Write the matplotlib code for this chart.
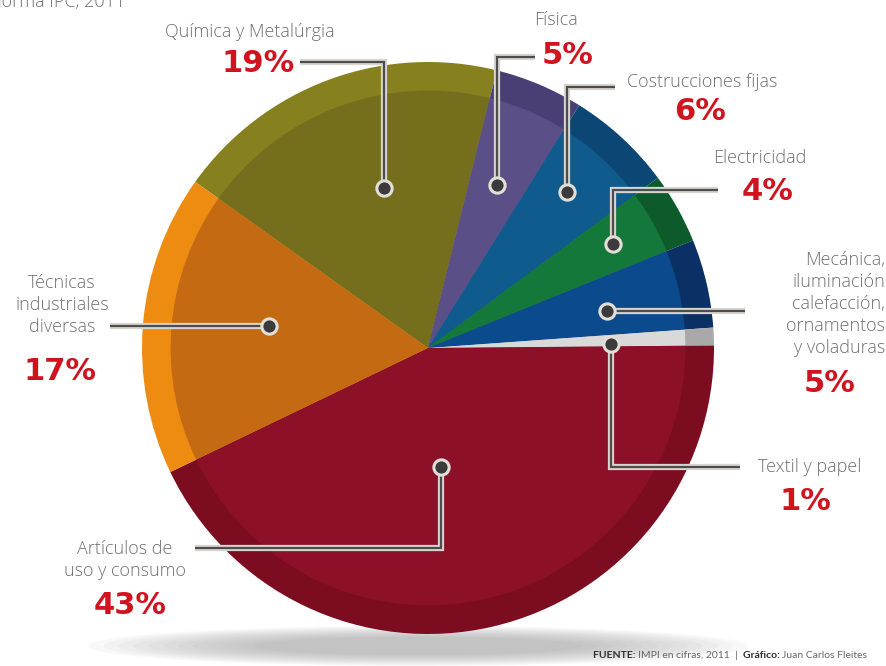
import numpy as np
import matplotlib.pyplot as plt
import matplotlib.patheffects as pe
from matplotlib.patches import Ellipse

# Datos del gráfico (porcentaje de solicitudes por sección)
categorias = ["Química y Metalúrgia", "Física", "Costrucciones fijas", "Electricidad",
              "Mecánica,\niluminación\ncalefacción,\nornamentos\ny voladuras",
              "Textil y papel", "Artículos de\nuso y consumo",
              "Técnicas\nindustriales\ndiversas"]
porcentajes = [19, 5, 6, 4, 5, 1, 43, 17]

colores = ["#746e1d", "#5a4f86", "#0f5b8d", "#137839", "#0c4a8e", "#d9d9d9", "#8c1028", "#c36a12"]
colores_borde = ["#86801f", "#4a3f74", "#0b4674", "#0d5a2b", "#0a3066", "#a9a9a9", "#7c0d20", "#ee8c12"]

W, H = 886, 666
CX, CY, R = 428, 348, 286


def Y(py):
    return H - py


fig = plt.figure(figsize=(W / 100, H / 100), dpi=100)
ax = fig.add_axes([0, 0, 1, 1])

# sombra bajo el pastel
for i in range(12):
    ax.add_patch(Ellipse((CX - 10, Y(646)), 660 - i * 30, 40 - i * 2,
                         color="#8f8f8f", alpha=0.055, lw=0, zorder=0))

# anillo exterior y cuerpo del pastel
ax.pie(porcentajes, colors=colores_borde, startangle=144.5, counterclock=False,
       center=(CX, Y(CY)), radius=R, wedgeprops=dict(linewidth=0), frame=True)
wedges, _ = ax.pie(porcentajes, colors=colores, startangle=144.5, counterclock=False,
                   center=(CX, Y(CY)), radius=R * 0.9, wedgeprops=dict(linewidth=0),
                   frame=True)
ax.set_xlim(0, W)
ax.set_ylim(0, H)
ax.set_aspect("equal")
ax.axis("off")

# líneas guía: radio y desfase angular del punto, fin de la línea
radio_punto = [0.58, 0.62, 0.73, 0.74, 0.64, 0.64, 0.42, 0.56]
desfase = [-5, 0, 1, 0, -1.5, -1, -7, -3]
fin_linea = [(300, 62), (535, 57), (615, 87), (718, 190), (745, None),
             (740, 467), (195, 548), (110, None)]

# posiciones del nombre y del porcentaje (pixeles)
pos_nombre = [(250, 32, "center"), (556, 20, "center"), (702, 82, "center"),
              (760, 158, "center"), (885, 304, "right"), (810, 467, "center"),
              (125, 560, "center"), (62, 305, "center")]
pos_pct = [(258, 64), (568, 55), (700, 111), (768, 192), (830, 384),
           (805, 502), (130, 606), (60, 371)]

efecto = [pe.withStroke(linewidth=4.5, foreground="#d8d5d0")]

for w, rf, da, fin, pn, pp, cat, pct in zip(wedges, radio_punto, desfase, fin_linea,
                                            pos_nombre, pos_pct, categorias, porcentajes):
    ang = np.deg2rad((w.theta1 + w.theta2) / 2 + da)
    dx = CX + rf * R * np.cos(ang)
    dy = Y(CY) + rf * R * np.sin(ang)
    if fin[1] is None:
        xs, ys = [dx, fin[0]], [dy, dy]
    else:
        xs, ys = [dx, dx, fin[0]], [dy, Y(fin[1]), Y(fin[1])]
    ax.plot(xs, ys, color="#4d4d4d", lw=1.6, path_effects=efecto,
            solid_capstyle="butt", solid_joinstyle="miter", zorder=5)
    ax.plot(dx, dy, "o", ms=11, mfc="#3b3b3b", mec="#e2ded8", mew=2.2, zorder=6)

    ax.text(pn[0], Y(pn[1]), cat, ha=pn[2], va="center", multialignment=pn[2],
            fontsize=13, family="Open Sans", fontweight="light", color="#707070",
            linespacing=1.27, zorder=7)
    ax.text(pp[0], Y(pp[1]), f"{pct}%", ha="center", va="center", fontsize=22,
            family="DejaVu Sans", fontweight="bold", color="#d0141f", zorder=7)

# textos de cabecera y fuente
ax.text(125, Y(2), "norma IPC, 2011", ha="right", va="center", fontsize=13,
        family="Open Sans", fontweight="light", color="#707070")
piezas = [("FUENTE: ", "bold", "#2e2e2e"), ("IMPI en cifras, 2011  |  ", "normal", "#666666"),
          ("Gráfico: ", "bold", "#2e2e2e"), ("Juan Carlos Fleites", "normal", "#666666")]
t = ax.text(593, Y(656), piezas[0][0], ha="left", va="center", fontsize=7.5,
            family="Lato", fontweight=piezas[0][1], color=piezas[0][2])
for txt, peso, col in piezas[1:]:
    t = ax.annotate(txt, xy=(1, 0.5), xycoords=t, ha="left", va="center", fontsize=7.5,
                    family="Lato", fontweight=peso, color=col)

fig.savefig("out.png", dpi=100, facecolor="white")
